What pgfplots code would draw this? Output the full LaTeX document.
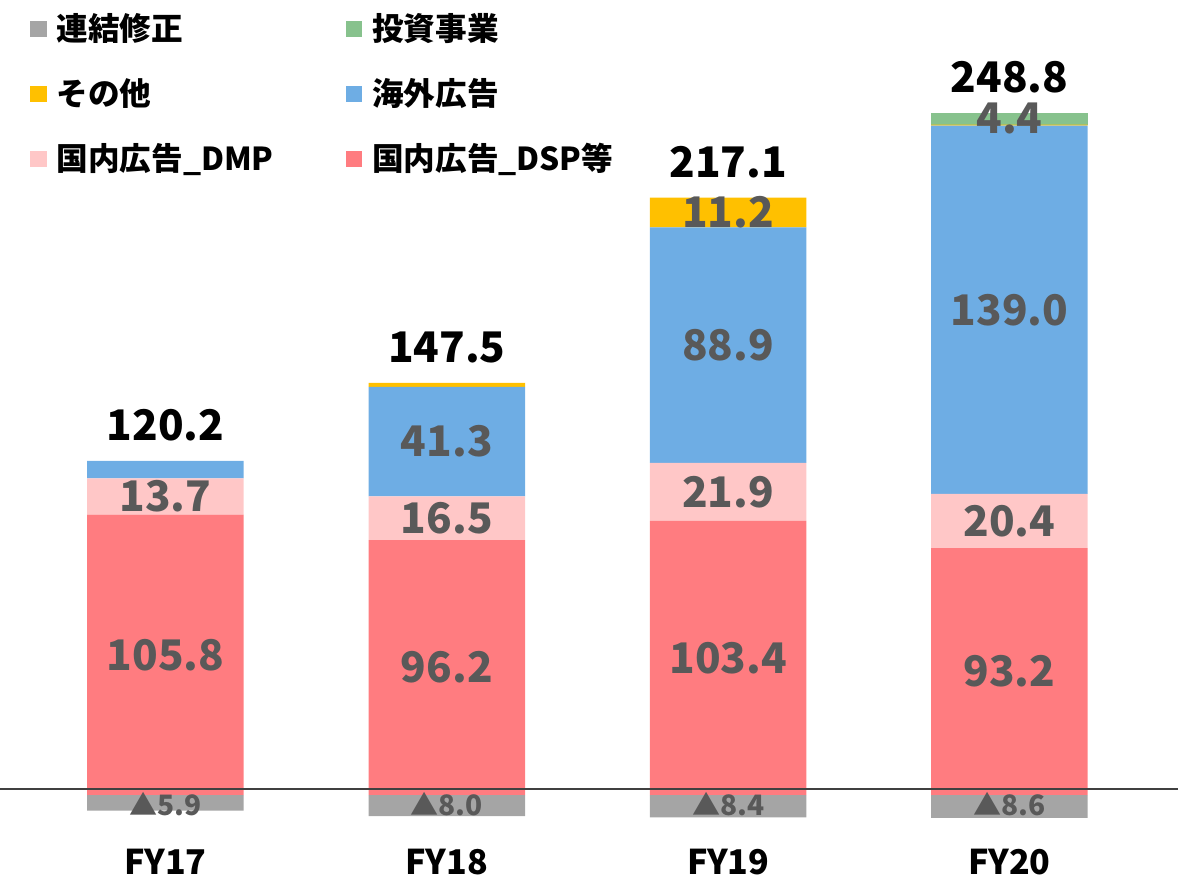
\documentclass[border=0pt]{standalone}
\usepackage{fontspec}
\setmainfont{Noto Sans CJK JP}
\usepackage{pgfplots}
\usepackage{pgfplotstable}
\pgfplotsset{compat=1.18}

\definecolor{cDSP}{HTML}{FF7C80}
\definecolor{cDMP}{HTML}{FFC7C7}
\definecolor{cKaigai}{HTML}{6EADE4}
\definecolor{cOther}{HTML}{FFC000}
\definecolor{cInvest}{HTML}{87C28D}
\definecolor{cAdj}{HTML}{A5A5A5}
\definecolor{lbl}{HTML}{595959}

% segment values per fiscal year (adj = 連結修正, negative)
\pgfplotstableread{
x dsp   dmp  kaigai other invest adj
0 105.8 13.7 6.6    0.0   0.0    -5.9
1 96.2  16.5 41.3   1.5   0.0    -8.0
2 103.4 21.9 88.9   11.2  0.0    -8.4
3 93.2  20.4 139.0  0.4   4.4    -8.6
}\segs

\pgfplotsset{
  base/.style={width=117.8mm,height=88.8mm,scale only axis,
    xmin=-0.588,xmax=3.599,ymin=-35.1,ymax=300,
    axis line style={draw=none},tick style={draw=none},ytick=\empty,
    bar width=15.65mm,clip=false},
  sq/.style={legend image code/.code={\fill[#1] (0mm,-0.75mm) rectangle (1.5mm,0.75mm);}},
}
\tikzset{
  seg/.style={font=\bfseries\fontsize{12}{14}\selectfont,text=lbl,anchor=center},
  tot/.style={font=\bfseries\fontsize{12}{14}\selectfont,text=black,anchor=base},
  neg/.style={font=\bfseries\fontsize{8}{10}\selectfont,text=lbl,anchor=center},
}

\begin{document}
\begin{tikzpicture}
\begin{axis}[base,name=ax,ybar stacked,
  xtick={0,1,2,3},xticklabels={FY17,FY18,FY19,FY20},
  xticklabel style={anchor=center,yshift=2.6mm,font=\bfseries\fontsize{9.7}{12}\selectfont},
  legend columns=2,
  legend cell align=left,
  legend style={at={(0.025,0.986)},anchor=north west,draw=none,fill=none,inner sep=0pt,
    font=\bfseries\fontsize{9}{11}\selectfont,row sep=3.3mm,
    nodes={inner sep=0pt,text height=2.7mm,text depth=0.5mm},
    /tikz/every odd column/.append style={column sep=1mm},
    /tikz/every even column/.append style={column sep=7.2mm}},
]
\addlegendimage{sq=cAdj}\addlegendentry{連結修正}
\addlegendimage{sq=cInvest}\addlegendentry{投資事業}
\addlegendimage{sq=cOther}\addlegendentry{その他}
\addlegendimage{sq=cKaigai}\addlegendentry{海外広告}
\addlegendimage{sq=cDMP}\addlegendentry{国内広告\_DMP}
\addlegendimage{sq=cDSP}\addlegendentry{国内広告\_DSP等}

\addplot[fill=cDSP,draw=none] table[x=x,y=dsp]{\segs};
\addplot[fill=cDMP,draw=none] table[x=x,y=dmp]{\segs};
\addplot[fill=cKaigai,draw=none] table[x=x,y=kaigai]{\segs};
\addplot[fill=cOther,draw=none] table[x=x,y=other]{\segs};
\addplot[fill=cInvest,draw=none] table[x=x,y=invest]{\segs};
\end{axis}

\begin{axis}[base,ybar,xtick=\empty]
\addplot[fill=cAdj,draw=none,bar shift=0pt] table[x=x,y=adj]{\segs};
\draw[black!75,line width=0.5pt] (axis cs:-0.588,2.3) -- (axis cs:3.599,2.3);

% segment labels
\node[seg] at (axis cs:0,52.9) {105.8};
\node[seg] at (axis cs:0,112.65) {13.7};
\node[seg] at (axis cs:1,48.1) {96.2};
\node[seg] at (axis cs:1,104.45) {16.5};
\node[seg] at (axis cs:1,133.35) {41.3};
\node[seg] at (axis cs:2,51.7) {103.4};
\node[seg] at (axis cs:2,114.35) {21.9};
\node[seg] at (axis cs:2,169.75) {88.9};
\node[seg] at (axis cs:2,219.8) {11.2};
\node[seg] at (axis cs:3,46.6) {93.2};
\node[seg] at (axis cs:3,103.4) {20.4};
\node[seg] at (axis cs:3,183.1) {139.0};
\node[seg] at (axis cs:3,255.2) {4.4};
% totals
\node[tot] at (axis cs:0,133.8) {120.2};
\node[tot] at (axis cs:1,163.2) {147.5};
\node[tot] at (axis cs:2,233.1) {217.1};
\node[tot] at (axis cs:3,265.1) {248.8};
% adjustments
\node[neg] at (axis cs:0,-3.6) {▲5.9};
\node[neg] at (axis cs:1,-3.6) {▲8.0};
\node[neg] at (axis cs:2,-3.6) {▲8.4};
\node[neg] at (axis cs:3,-3.6) {▲8.6};
\end{axis}
\pgfresetboundingbox
\useasboundingbox (ax.south west) rectangle (ax.north east);
\end{tikzpicture}
\end{document}
